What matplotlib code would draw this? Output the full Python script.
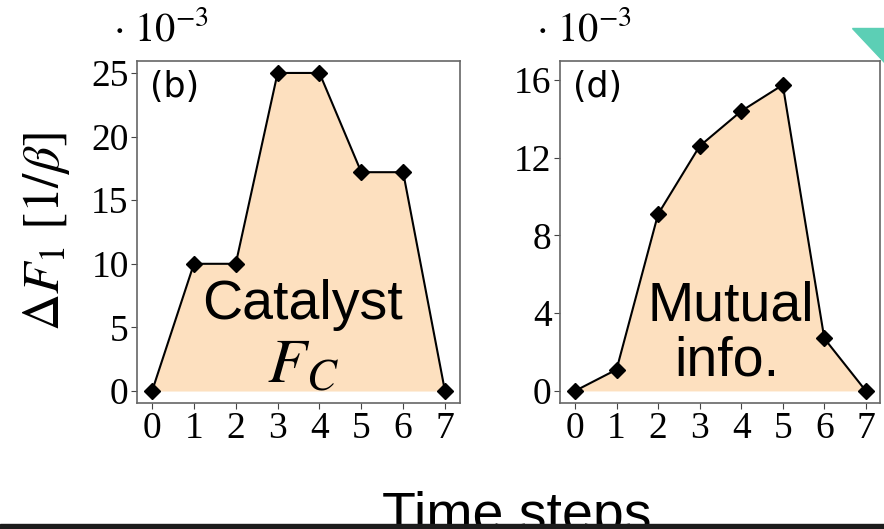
import matplotlib
matplotlib.use("Agg")
import matplotlib.pyplot as plt
from matplotlib.patches import Polygon, Rectangle

plt.rcParams['mathtext.fontset'] = 'stix'
plt.rcParams['font.family'] = ['Liberation Serif', 'DejaVu Serif']

# --- data (values in units of 1e-3) ---
steps = [0, 1, 2, 3, 4, 5, 6, 7]
catalyst = [0, 10, 10, 25, 25, 17.2, 17.2, 0]
mutual = [0, 1.1, 9.1, 12.6, 14.4, 15.75, 2.7, 0]
left_yticks = [0, 5, 10, 15, 20, 25]
right_yticks = [0, 4, 8, 12, 16]

fill_col = '#fde0bf'
sans = ['Liberation Sans', 'DejaVu Sans']

fig = plt.figure(figsize=(8.84, 5.29), dpi=100)

ax1 = fig.add_axes([0.155, 0.2382, 0.3654, 0.6465])
ax2 = fig.add_axes([0.6335, 0.2382, 0.362, 0.6465])

for ax, vals, yt, ylim, xlim in [
        (ax1, catalyst, left_yticks, (-0.94, 25.94), (-0.36, 7.36)),
        (ax2, mutual, right_yticks, (-0.62, 16.98), (-0.36, 7.34))]:
    ax.fill_between(steps, vals, 0, color=fill_col, lw=0)
    ax.plot(steps, vals, color='black', lw=1.5, marker='D', ms=8)
    ax.set_xlim(*xlim)
    ax.set_ylim(*ylim)
    ax.set_xticks(steps)
    ax.set_yticks(yt)
    ax.tick_params(labelsize=27, length=4, width=0.8, color='#444444', pad=2)
    for s in ax.spines.values():
        s.set_color('#666666')
        s.set_linewidth(1.2)
    # offset text drawn by hand, as in the original figure
    ax.text(-0.075, 1.035, r'$\cdot\ 10^{-3}$', transform=ax.transAxes,
            fontsize=29, ha='left', va='bottom')

ax1.set_ylabel(r'$\Delta F_1\ [1/\beta]$', fontsize=37, labelpad=14)

ax1.text(0.04, 0.975, '(b)', transform=ax1.transAxes, fontsize=25,
         family=['DejaVu Sans'], ha='left', va='top')
ax2.text(0.04, 0.975, '(d)', transform=ax2.transAxes, fontsize=25,
         family=['DejaVu Sans'], ha='left', va='top')

ax1.text(3.6, 5.7, 'Catalyst', fontsize=40, family=sans, ha='center', va='baseline')
ax1.text(3.6, 0.7, r'$F_C$', fontsize=46, ha='center', va='baseline')
ax2.text(3.75, 3.65, 'Mutual', fontsize=40, family=sans, ha='center', va='baseline')
ax2.text(3.65, 0.8, 'info.', fontsize=40, family=sans, ha='center', va='baseline')

# shared x label, cut off by the slide edge like in the screenshot
fig.text(0.584, -2 / 529, 'Time steps', fontsize=40, family=sans,
         ha='center', va='baseline')

# slide decorations
fig.patches.append(Rectangle((0, 0), 1, 5 / 529, transform=fig.transFigure,
                             color='#1c1c1c', zorder=5))
fig.patches.append(Polygon([(852 / 884, 1 - 28 / 529), (1.0, 1 - 28 / 529),
                            (1.0, 1 - 62 / 529)], closed=True,
                           transform=fig.transFigure, color='#5ccfb5', zorder=5))

fig.savefig('out.png', dpi=100)
